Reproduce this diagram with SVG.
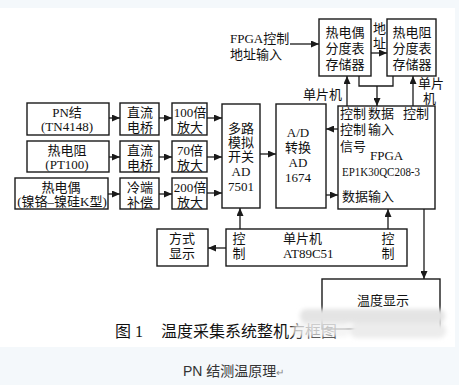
<svg xmlns="http://www.w3.org/2000/svg" width="459" height="385" viewBox="0 0 459 385">
<defs>
<marker id="ah" markerUnits="userSpaceOnUse" markerWidth="8" markerHeight="7" refX="8" refY="3.5" orient="auto">
<path d="M0,0 L8,3.5 L0,7 z" fill="#1a1a1a"/>
</marker>
<filter id="blur" x="-10%" y="-50%" width="120%" height="200%"><feGaussianBlur stdDeviation="2"/></filter>
</defs>
<style>
.box{fill:#ffffff;stroke:#1a1a1a;stroke-width:1.4}
.t{font-family:"Liberation Serif","Noto Sans CJK SC",serif;font-size:13px;fill:#111}
.m{text-anchor:middle}
.c{stroke:#1a1a1a;stroke-width:1.3;fill:none}
.a{marker-end:url(#ah)}
.cap{font-family:"Liberation Serif","Noto Sans CJK SC",serif;font-size:16px;fill:#111}
.sub{font-family:"Liberation Sans","Noto Sans CJK SC",sans-serif;font-size:14px;fill:#333}
</style>
<rect x="0" y="0" width="459" height="385" fill="#f4f8fb"/>
<rect x="0" y="8" width="455" height="339" fill="#ffffff"/>

<g id="n-pn">
<rect class="box" x="27" y="103" width="82" height="32"/>
<text class="t m" x="67" y="117" font-size="14">PN结</text>
<text class="t m" x="67" y="131" font-size="14">(TN4148)</text>
</g>
<g id="n-rtd">
<rect class="box" x="27" y="141" width="82" height="31"/>
<text class="t m" x="67" y="155" font-size="14">热电阻</text>
<text class="t m" x="67" y="169" font-size="14">(PT100)</text>
</g>
<g id="n-tc">
<rect class="box" x="15" y="178" width="93" height="31"/>
<text class="t m" x="61" y="192" font-size="14">热电偶</text>
<text class="t m" x="62" y="206">(镍铬–镍硅K型)</text>
</g>
<g id="n-br1">
<rect class="box" x="120" y="103" width="39" height="32"/>
<text class="t m" x="140" y="117">直流</text>
<text class="t m" x="140" y="132">电桥</text>
</g>
<g id="n-br2">
<rect class="box" x="120" y="141" width="39" height="31"/>
<text class="t m" x="140" y="155">直流</text>
<text class="t m" x="140" y="170">电桥</text>
</g>
<g id="n-cj">
<rect class="box" x="120" y="178" width="39" height="31"/>
<text class="t m" x="140" y="192">冷端</text>
<text class="t m" x="140" y="207">补偿</text>
</g>
<g id="n-amp100">
<rect class="box" x="172" y="103" width="35" height="32"/>
<text class="t m" x="190" y="117">100倍</text>
<text class="t m" x="190" y="132">放大</text>
</g>
<g id="n-amp70">
<rect class="box" x="172" y="141" width="35" height="31"/>
<text class="t m" x="190" y="155">70倍</text>
<text class="t m" x="190" y="170">放大</text>
</g>
<g id="n-amp200">
<rect class="box" x="172" y="178" width="35" height="31"/>
<text class="t m" x="190" y="192">200倍</text>
<text class="t m" x="190" y="207">放大</text>
</g>
<g id="n-mux">
<rect class="box" x="222" y="104" width="38" height="104"/>
<text class="t m" x="241" y="133">多路</text>
<text class="t m" x="241" y="147">模拟</text>
<text class="t m" x="241" y="161">开关</text>
<text class="t m" x="241" y="176">AD</text>
<text class="t m" x="241" y="191">7501</text>
</g>
<g id="n-adc">
<rect class="box" x="276" y="104" width="50" height="104"/>
<text class="t m" x="298" y="137">A/D</text>
<text class="t m" x="298" y="152">转换</text>
<text class="t m" x="298" y="167">AD</text>
<text class="t m" x="298" y="182">1674</text>
</g>
<g id="n-fpga">
<rect class="box" x="338" y="106" width="97" height="103"/>
<text class="t" x="340" y="118">控制</text>
<text class="t" x="368" y="118">数据</text>
<text class="t" x="403" y="118">控制</text>
<text class="t" x="340" y="134">控制</text>
<text class="t" x="368" y="134">输入</text>
<text class="t" x="340" y="151">信号</text>
<text class="t" x="370" y="160">FPGA</text>
<text class="t" x="342" y="176" textLength="78" lengthAdjust="spacingAndGlyphs">EP1K30QC208-3</text>
<text class="t" x="342" y="201">数据输入</text>
</g>
<g id="n-mem1">
<rect class="box" x="319" y="19" width="52" height="57"/>
<text class="t m" x="345" y="37" font-size="14">热电偶</text>
<text class="t m" x="345" y="53" font-size="14">分度表</text>
<text class="t m" x="345" y="69" font-size="14">存储器</text>
</g>
<g id="n-mem2">
<rect class="box" x="387" y="19" width="49" height="57"/>
<text class="t m" x="412" y="37" font-size="14">热电阻</text>
<text class="t m" x="412" y="53" font-size="14">分度表</text>
<text class="t m" x="412" y="69" font-size="14">存储器</text>
</g>
<g id="n-mcu">
<rect class="box" x="226" y="229" width="181" height="37"/>
<text class="t m" x="239" y="243">控</text>
<text class="t m" x="239" y="258">制</text>
<text class="t" x="283" y="243">单片机</text>
<text class="t" x="283" y="258">AT89C51</text>
<text class="t m" x="388" y="243">控</text>
<text class="t m" x="388" y="258">制</text>
</g>
<g id="n-mode">
<rect class="box" x="157" y="229" width="51" height="37"/>
<text class="t m" x="182" y="243">方式</text>
<text class="t m" x="182" y="258">显示</text>
</g>
<g id="n-temp">
<rect class="box" x="322" y="279" width="118" height="50"/>
<text class="t m" x="383" y="305" font-size="14">温度显示</text>
</g>

<g id="labels">
<text class="t" x="230" y="43">FPGA控制</text>
<text class="t" x="230" y="59">地址输入</text>
<text class="t" x="373" y="33">地</text>
<text class="t" x="373" y="48">址</text>
<text class="t" x="303" y="99">单片机</text>
<text class="t" x="418" y="88" font-size="12">单片</text>
<text class="t" x="423" y="103" font-size="12">机</text>
</g>

<g id="connectors">
<line class="c a" x1="109" y1="118" x2="120" y2="118"/>
<line class="c a" x1="109" y1="157" x2="120" y2="157"/>
<line class="c a" x1="108" y1="194" x2="120" y2="194"/>
<line class="c a" x1="159" y1="118" x2="172" y2="118"/>
<line class="c a" x1="159" y1="157" x2="172" y2="157"/>
<line class="c a" x1="159" y1="194" x2="172" y2="194"/>
<line class="c a" x1="207" y1="118" x2="222" y2="118"/>
<line class="c a" x1="207" y1="157" x2="222" y2="157"/>
<line class="c a" x1="207" y1="193" x2="222" y2="193"/>
<line class="c a" x1="260" y1="154" x2="276" y2="154"/>
<line class="c a" x1="338" y1="129" x2="326" y2="129"/>
<line class="c a" x1="326" y1="195" x2="338" y2="195"/>
<line class="c a" x1="290" y1="44" x2="319" y2="44"/>
<line class="c a" x1="371" y1="53" x2="387" y2="53"/>
<line class="c a" x1="347" y1="106" x2="347" y2="76"/>
<polyline class="c" points="359,76 359,86 393,86 393,76"/>
<line class="c a" x1="377" y1="86" x2="377" y2="106"/>
<line class="c a" x1="413" y1="106" x2="413" y2="76"/>
<line class="c a" x1="240" y1="229" x2="240" y2="208"/>
<line class="c a" x1="388" y1="229" x2="388" y2="209"/>
<line class="c a" x1="226" y1="248" x2="208" y2="248"/>
<line class="c a" x1="424" y1="209" x2="424" y2="279"/>
</g>

<text class="cap" x="115" y="337">图 1</text>
<text class="cap" x="161" y="337">温度采集系统整机方框图</text>

<g id="watermark" filter="url(#blur)">
<rect x="300" y="309" width="145" height="14" rx="6" fill="#e4e4e4"/>
<rect x="350" y="323" width="96" height="15" rx="7" fill="#ececec"/>
<rect x="292" y="323" width="58" height="14" rx="6" fill="#f2f2f2" opacity="0.8"/>
</g>

<text class="sub" x="183" y="376">PN 结测温原理<tspan font-size="10" fill="#888">↵</tspan></text>
</svg>
